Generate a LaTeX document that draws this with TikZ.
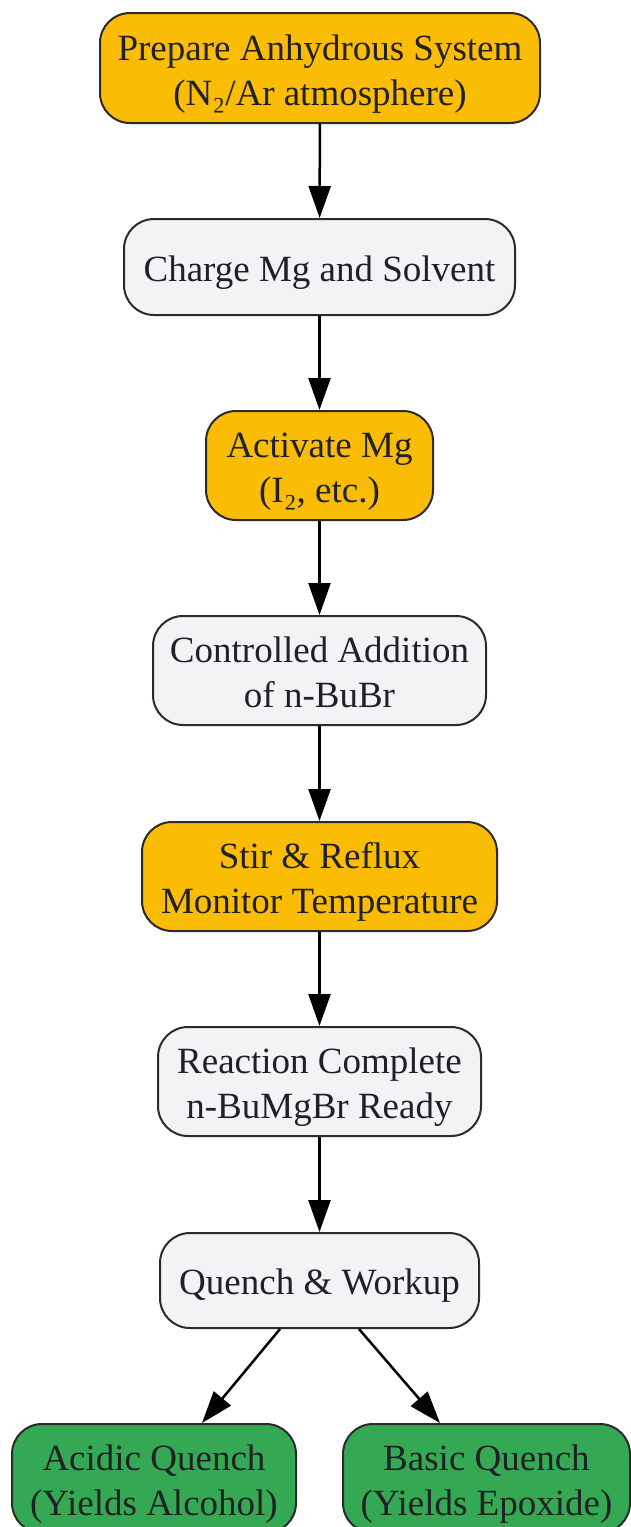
\documentclass[tikz,border=0pt]{standalone}
\usepackage{fontspec}
\setmainfont{Liberation Serif}
\usetikzlibrary{arrows.meta}
\definecolor{ylw}{HTML}{FBBC05}
\definecolor{gry}{HTML}{F1F3F4}
\definecolor{grn}{HTML}{34A853}
\definecolor{txt}{HTML}{202124}
\definecolor{brd}{HTML}{2B2B2B}
\tikzset{
  box/.style={draw=brd, line width=2pt, rounded corners=30pt, align=center,
    inner sep=0pt, text=txt, font=\fontsize{37}{45}\selectfont},
  two/.style={text height=78pt, text depth=4pt},
  one/.style={text height=32pt, text depth=4pt},
  ybox/.style={box, fill=ylw},
  gbox/.style={box, fill=gry},
  grbox/.style={box, fill=grn},
  arr/.style={line width=2.5pt, -{Triangle[length=32pt,width=22pt]}}
}
\begin{document}
\begin{tikzpicture}[x=1pt,y=-1pt]
\useasboundingbox (0,0) rectangle (630,1527);
\node[ybox, two, minimum width=440pt, minimum height=110pt] (n1) at (320,68) {Prepare Anhydrous System\\(N₂/Ar atmosphere)};
\node[gbox, one, minimum width=391pt, minimum height=96pt] (n2) at (319.5,267) {Charge Mg and Solvent};
\node[ybox, two, minimum width=227pt, minimum height=109pt] (n3) at (319.5,465.5) {Activate Mg\\(I₂, etc.)};
\node[gbox, two, minimum width=333pt, minimum height=109pt] (n4) at (319.5,670.5) {Controlled Addition\\of n-BuBr};
\node[ybox, two, minimum width=355pt, minimum height=109pt] (n5) at (319.5,876.5) {Stir \& Reflux\\Monitor Temperature};
\node[gbox, two, minimum width=323pt, minimum height=109pt] (n6) at (319.5,1081.5) {Reaction Complete\\n-BuMgBr Ready};
\node[gbox, one, minimum width=319pt, minimum height=95pt] (n7) at (319.5,1280.5) {Quench \& Workup};
\node[grbox, two, minimum width=284pt, minimum height=109pt] (n8) at (154,1478.5) {Acidic Quench\\(Yields Alcohol)};
\node[grbox, two, minimum width=287pt, minimum height=109pt] (n9) at (486.5,1478.5) {Basic Quench\\(Yields Epoxide)};
\draw[arr] (n1) -- (n2);
\draw[arr] (n2) -- (n3);
\draw[arr] (n3) -- (n4);
\draw[arr] (n4) -- (n5);
\draw[arr] (n5) -- (n6);
\draw[arr] (n6) -- (n7);
\draw[arr] ([xshift=-39.5pt]n7.south) -- ([xshift=48pt]n8.north);
\draw[arr] ([xshift=39.5pt]n7.south) -- ([xshift=-46.5pt]n9.north);
\end{tikzpicture}
\end{document}
